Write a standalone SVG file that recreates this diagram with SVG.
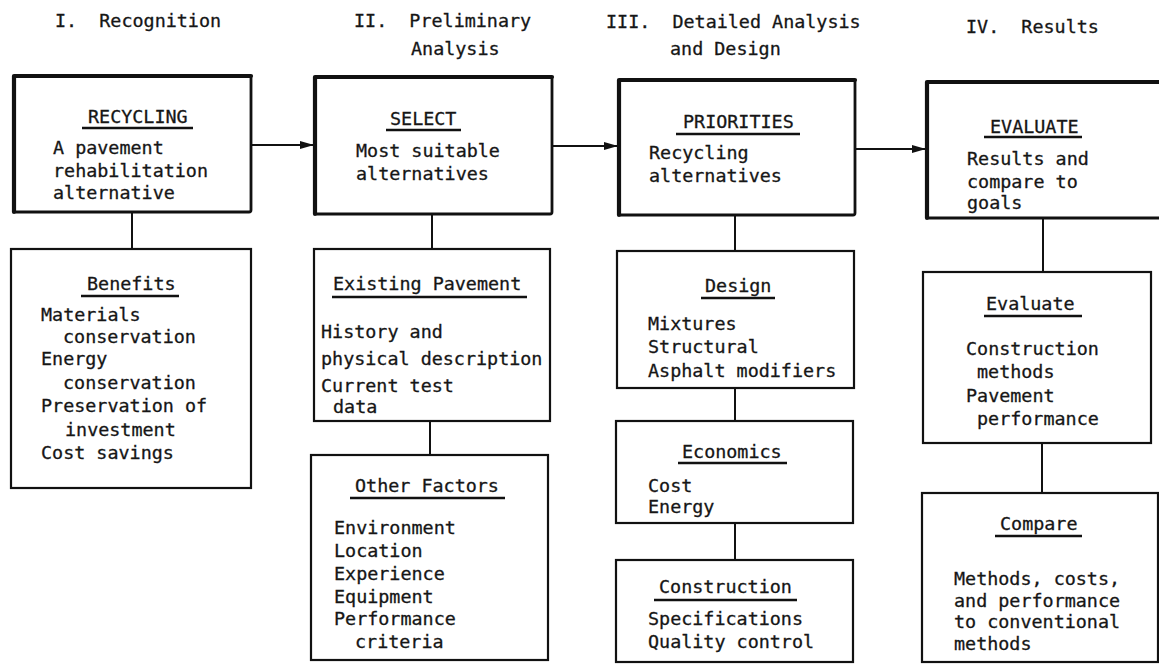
<svg xmlns="http://www.w3.org/2000/svg" width="1159" height="667" viewBox="0 0 1159 667">
<defs>
<style>
text{font-family:"DejaVu Sans Mono","Liberation Mono",monospace;font-size:18.4px;fill:#161616;stroke:#161616;stroke-width:0.3;white-space:pre}
.main{fill:#fff;stroke:#111;stroke-width:2.8;stroke-linejoin:round}
.edge{fill:none;stroke:#111;stroke-width:4.2;stroke-linejoin:round;stroke-linecap:round}
.sub{fill:#fff;stroke:#111;stroke-width:2.2}
.ul{stroke:#111;stroke-width:2.4}
.conn line{stroke:#111;stroke-width:2}
</style>
<marker id="ah" markerUnits="userSpaceOnUse" markerWidth="14" markerHeight="8" refX="14" refY="4" orient="auto">
<path d="M0,0 L14,4 L0,8 z" fill="#111"/>
</marker>
</defs>
<rect width="1159" height="667" fill="#fff"/>

<g id="headers">
<text x="55" y="27">I.  Recognition</text>
<text x="354" y="27">II.  Preliminary</text>
<text x="411" y="55">Analysis</text>
<text x="606" y="28">III.  Detailed Analysis</text>
<text x="670" y="55">and Design</text>
<text x="966" y="33">IV.  Results</text>
</g>

<g class="conn" id="connectors">
<line x1="132" y1="212" x2="132" y2="249"/>
<line x1="432" y1="214" x2="432" y2="249"/>
<line x1="430" y1="421" x2="430" y2="455"/>
<line x1="735" y1="215" x2="735" y2="251"/>
<line x1="735" y1="388" x2="735" y2="421"/>
<line x1="735" y1="523" x2="735" y2="560"/>
<line x1="1043" y1="218" x2="1043" y2="272"/>
<line x1="1042" y1="443" x2="1042" y2="493"/>
<line x1="251" y1="145" x2="314" y2="145" marker-end="url(#ah)"/>
<line x1="552" y1="146" x2="618" y2="146" marker-end="url(#ah)"/>
<line x1="855" y1="149" x2="926" y2="149" marker-end="url(#ah)"/>
</g>

<g id="recycling">
<rect class="main" x="14" y="76" width="237" height="136" rx="2"/>
<path class="edge" d="M14,212 L14,76 L251,76"/>
<text x="88" y="123">RECYCLING</text>
<line class="ul" x1="82" y1="128" x2="193" y2="128"/>
<text x="53" y="154">A pavement</text>
<text x="53" y="177">rehabilitation</text>
<text x="53" y="199">alternative</text>
</g>

<g id="select">
<rect class="main" x="315" y="77" width="237" height="137" rx="2"/>
<path class="edge" d="M315,214 L315,77 L552,77"/>
<text x="390" y="125">SELECT</text>
<line class="ul" x1="386" y1="130" x2="461" y2="130"/>
<text x="356" y="157">Most suitable</text>
<text x="356" y="180">alternatives</text>
</g>

<g id="priorities">
<rect class="main" x="619" y="80" width="236" height="135" rx="2"/>
<path class="edge" d="M619,215 L619,80 L855,80"/>
<text x="683" y="128">PRIORITIES</text>
<line class="ul" x1="676" y1="134" x2="800" y2="134"/>
<text x="649" y="159">Recycling</text>
<text x="649" y="182">alternatives</text>
</g>

<g id="evaluate-main">
<rect class="main" x="927" y="82" width="240" height="136" rx="2"/>
<path class="edge" d="M927,218 L927,82 L1167,82"/>
<text x="990" y="133">EVALUATE</text>
<line class="ul" x1="984" y1="137" x2="1082" y2="137"/>
<text x="967" y="165">Results and</text>
<text x="967" y="188">compare to</text>
<text x="967" y="209">goals</text>
</g>

<g id="benefits">
<rect class="sub" x="11" y="249" width="240" height="239"/>
<text x="87" y="290">Benefits</text>
<line class="ul" x1="81" y1="296" x2="179" y2="296"/>
<text x="41" y="321">Materials</text>
<text x="63" y="343">conservation</text>
<text x="41" y="365">Energy</text>
<text x="63" y="389">conservation</text>
<text x="41" y="412">Preservation of</text>
<text x="65" y="436">investment</text>
<text x="41" y="459">Cost savings</text>
</g>

<g id="existing">
<rect class="sub" x="314" y="249" width="236" height="172"/>
<text x="333" y="290">Existing Pavement</text>
<line class="ul" x1="332" y1="297" x2="527" y2="297"/>
<text x="321" y="338">History and</text>
<text x="321" y="365">physical description</text>
<text x="321" y="392">Current test</text>
<text x="333" y="413">data</text>
</g>

<g id="other-factors">
<rect class="sub" x="311" y="455" width="237" height="205"/>
<text x="355" y="492">Other Factors</text>
<line class="ul" x1="350" y1="498" x2="505" y2="498"/>
<text x="334" y="534">Environment</text>
<text x="334" y="557">Location</text>
<text x="334" y="580">Experience</text>
<text x="334" y="603">Equipment</text>
<text x="334" y="625">Performance</text>
<text x="355" y="648">criteria</text>
</g>

<g id="design">
<rect class="sub" x="617" y="251" width="237" height="137"/>
<text x="705" y="292">Design</text>
<line class="ul" x1="701" y1="298" x2="775" y2="298"/>
<text x="648" y="330">Mixtures</text>
<text x="648" y="353">Structural</text>
<text x="648" y="377">Asphalt modifiers</text>
</g>

<g id="economics">
<rect class="sub" x="616" y="421" width="237" height="102"/>
<text x="682" y="458">Economics</text>
<line class="ul" x1="678" y1="463" x2="787" y2="463"/>
<text x="648" y="492">Cost</text>
<text x="648" y="513">Energy</text>
</g>

<g id="construction">
<rect class="sub" x="616" y="560" width="237" height="102"/>
<text x="659" y="593">Construction</text>
<line class="ul" x1="654" y1="600" x2="797" y2="600"/>
<text x="648" y="625">Specifications</text>
<text x="648" y="648">Quality control</text>
</g>

<g id="evaluate">
<rect class="sub" x="923" y="272" width="228" height="171"/>
<text x="986" y="310">Evaluate</text>
<line class="ul" x1="984" y1="316" x2="1082" y2="316"/>
<text x="966" y="355">Construction</text>
<text x="977" y="378">methods</text>
<text x="966" y="402">Pavement</text>
<text x="977" y="425">performance</text>
</g>

<g id="compare">
<rect class="sub" x="922" y="493" width="236" height="169"/>
<text x="1000" y="530">Compare</text>
<line class="ul" x1="995" y1="536" x2="1082" y2="536"/>
<text x="954" y="585">Methods, costs,</text>
<text x="954" y="607">and performance</text>
<text x="954" y="628">to conventional</text>
<text x="954" y="650">methods</text>
</g>
</svg>
